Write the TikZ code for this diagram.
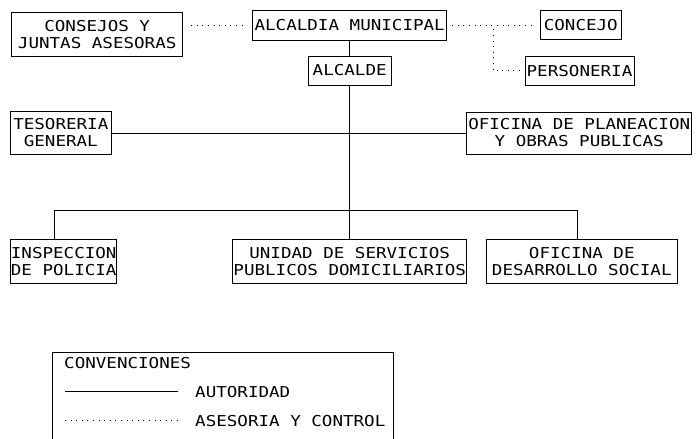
\documentclass[tikz,border=0pt]{standalone}
\usepackage{fontspec}
\newfontfamily\cadfont[FakeStretch=1.17]{DejaVu Sans Mono}
\begin{document}
\begin{tikzpicture}[x=1pt,y=-1pt,
  box/.style={draw, line width=0.9pt, inner sep=0pt, align=center,
    font=\cadfont\fontsize{15}{17}\selectfont},
  txt/.style={inner sep=0pt, anchor=west, font=\cadfont\fontsize{15}{17}\selectfont},
  auth/.style={line width=0.8pt},
  adv/.style={line width=0.8pt, dash pattern=on 0.8pt off 4.8pt}]
\useasboundingbox (0,0) rectangle (696,439);
% boxes
\node[box, minimum width=171pt, minimum height=43.3pt] (consejos) at (97.2,34.3) {CONSEJOS Y\\JUNTAS ASESORAS};
\node[box, minimum width=194pt, minimum height=30.7pt] (alcaldia) at (349.7,25.3) {ALCALDIA MUNICIPAL};
\node[box, minimum width=81.7pt, minimum height=29pt] (concejo) at (580.8,25.3) {CONCEJO};
\node[box, minimum width=82.7pt, minimum height=29pt] (alcalde) at (349.7,70.5) {ALCALDE};
\node[box, minimum width=109pt, minimum height=28.3pt] (personeria) at (579.5,70.8) {PERSONERIA};
\node[box, minimum width=100.3pt, minimum height=43.3pt] (tesoreria) at (60.8,133) {TESORERIA\\GENERAL};
\node[box, minimum width=225pt, minimum height=42pt] (planeacion) at (579.2,133) {OFICINA DE PLANEACION\\Y OBRAS PUBLICAS};
\node[box, minimum width=106pt, minimum height=44pt] (inspeccion) at (63.7,261.5) {INSPECCION\\DE POLICIA};
\node[box, minimum width=234.3pt, minimum height=43.3pt] (unidad) at (349.7,261.5) {UNIDAD DE SERVICIOS\\PUBLICOS DOMICILIARIOS};
\node[box, minimum width=190.3pt, minimum height=43.3pt] (desarrollo) at (581.8,261.5) {OFICINA DE\\DESARROLLO SOCIAL};
% authority lines
\coordinate (bus) at (349.7,210);
\coordinate (bl) at (54,210);
\coordinate (br) at (577.7,210);
\draw[auth] (alcaldia) -- (alcalde);
\draw[auth] (alcalde) -- (bus) -- (unidad);
\draw[auth] (tesoreria) -- (planeacion);
\draw[auth] (bl |- inspeccion.north) -- (bl) -- (br) -- (br |- desarrollo.north);
% advisory lines
\coordinate (jp) at (493.3,25.3);
\draw[adv, shorten <=8pt, shorten >=8pt] (consejos.east |- alcaldia.west) -- (alcaldia.west);
\draw[adv, shorten <=5pt, shorten >=5pt] (alcaldia.east) -- (concejo.west);
\draw[adv, shorten <=4pt, shorten >=5pt] (jp) |- (personeria.west);
% legend
\draw[line width=0.9pt] (52.7,445) -- (52.7,352) -- (393,352) -- (393,445);
\node[txt] (conv) at (64,363) {CONVENCIONES};
\coordinate (la1) at (65,391.7);
\coordinate (la2) at (178,391.7);
\coordinate (lb1) at (65,420.7);
\coordinate (lb2) at (178,420.7);
\draw[auth] (la1) -- (la2);
\draw[adv] (lb1) -- (lb2);
\node[txt] (lauth) at (195,391.7) {AUTORIDAD};
\node[txt] (ladv) at (195,420.7) {ASESORIA Y CONTROL};
\end{tikzpicture}
\end{document}
